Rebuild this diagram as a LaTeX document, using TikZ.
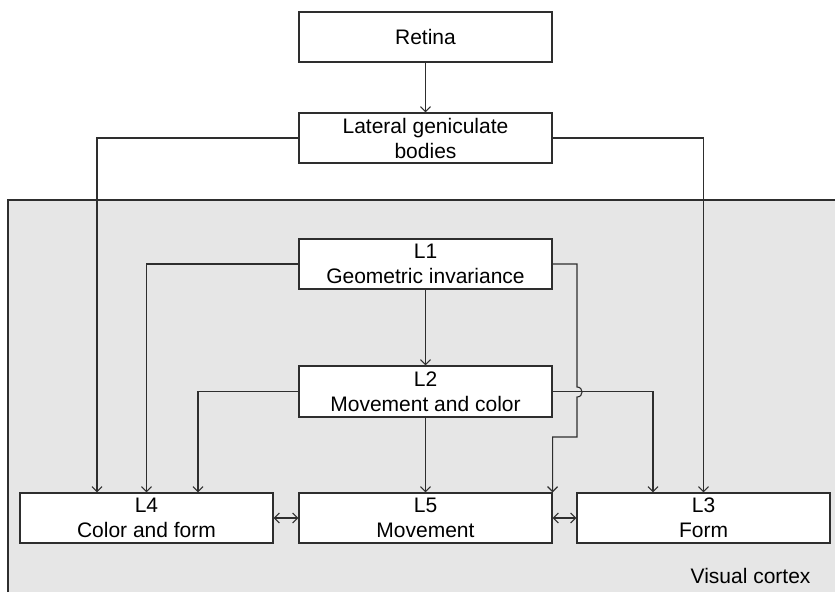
\documentclass[tikz,border=0pt]{standalone}
\usepackage{fontspec}
\setmainfont{Liberation Sans}
\usetikzlibrary{arrows.meta,calc}

\definecolor{cortexgray}{HTML}{E6E6E6}
\definecolor{edgegray}{HTML}{2E2E2E}

\tikzset{
  layerbox/.style={draw=edgegray, line width=1.2pt, fill=white,
    minimum width=253pt, minimum height=50pt, inner sep=0pt,
    align=center, font=\fontsize{21}{25}\selectfont},
  link/.style={draw=edgegray, line width=1.1pt,
    -{Straight Barb[length=5pt,width=10pt,line width=1.1pt]}},
  bilink/.style={draw=edgegray, line width=1.1pt,
    {Straight Barb[length=5pt,width=10pt,line width=1.1pt]}-{Straight Barb[length=5pt,width=10pt,line width=1.1pt]}},
  plain/.style={draw=edgegray, line width=1.2pt}
}

\begin{document}
\begin{tikzpicture}[x=1pt,y=-1pt]
\useasboundingbox (0,0) rectangle (835,592);

% visual cortex region
\fill[cortexgray] (8,200) rectangle (835,592);
\draw[plain] (8,592) -- (8,200) -- (835,200);
\node[anchor=base east, font=\fontsize{21}{25}\selectfont] (cortex) at (814,583) {Visual cortex};

% boxes
\node[layerbox] (retina) at (425.5,37) {Retina};
\node[layerbox] (lgb) at (425.5,138) {Lateral geniculate\\bodies};
\node[layerbox] (l1) at (425.5,264) {L1\\Geometric invariance};
\node[layerbox, minimum height=51pt] (l2) at (425.5,391.5) {L2\\Movement and color};
\node[layerbox] (l4) at (146.5,518) {L4\\Color and form};
\node[layerbox] (l5) at (425.5,518) {L5\\Movement};
\node[layerbox] (l3) at (703.5,518) {L3\\Form};

% feed-forward connections
\draw[link] (retina) -- (lgb);
\draw[link] (lgb.west) -| ([xshift=-49.5pt]l4.north);
\draw[link] (lgb.east) -| (l3.north);
\draw[link] (l1.west) -| (l4.north);
\draw[link] (l1) -- (l2);
\draw[link] (l1.east) -- (577,264) -- (577,387)
  .. controls +(6.7,0) and +(6.7,0) .. (577,397)
  -- (577,437) -- (l5.north east |- 0,437) -- (l5.north east);
\draw[link] (l2.west) -| ([xshift=51.5pt]l4.north);
\draw[link] (l2) -- (l5);
\draw[link] (l2.east) -| ([xshift=-50.5pt]l3.north);

% lateral connections
\draw[bilink] (l4) -- (l5);
\draw[bilink] (l5) -- (l3);
\end{tikzpicture}
\end{document}
